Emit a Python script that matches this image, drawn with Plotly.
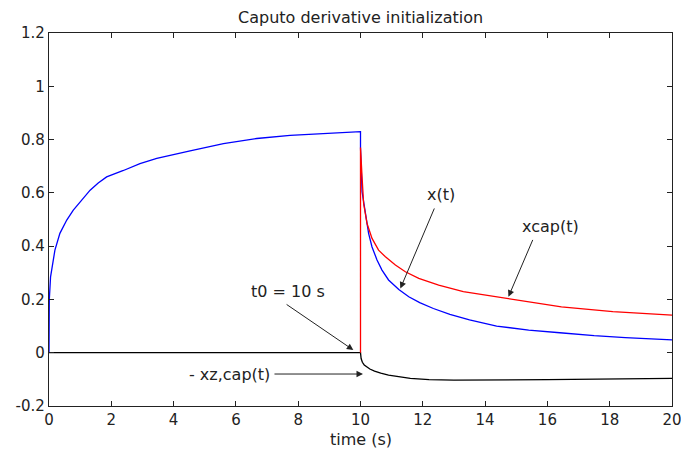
import plotly.graph_objects as go

# ---- data ----
t_x = [0, 0.01, 0.05, 0.19, 0.35, 0.57, 0.78, 1.0, 1.32, 1.58, 1.85, 2.39, 2.92, 3.46, 3.99, 4.53, 5.6, 6.67, 7.74, 8.8, 10.0,
       10.0, 10.05, 10.16, 10.26, 10.37, 10.53, 10.69, 10.9, 11.23, 11.55, 11.9, 12.34, 12.87, 13.5, 14.37, 15.4, 16.4, 17.5, 18.5, 20.0]
x_vals = [0, 0.20, 0.285, 0.385, 0.448, 0.498, 0.535, 0.566, 0.61, 0.637, 0.66, 0.684, 0.71, 0.729, 0.744, 0.758, 0.785, 0.804, 0.816, 0.823, 0.830,
          0.77, 0.604, 0.523, 0.448, 0.397, 0.348, 0.31, 0.273, 0.237, 0.21, 0.188, 0.166, 0.144, 0.123, 0.100, 0.085, 0.075, 0.064, 0.057, 0.048]

t_cap = [10.0, 10.0, 10.05, 10.1, 10.21, 10.37, 10.58, 10.8, 11.12, 11.44, 11.87, 12.51, 13.3, 14.75, 16.45, 18.1, 20.0]
xcap_vals = [0, 0.77, 0.66, 0.56, 0.485, 0.429, 0.385, 0.36, 0.329, 0.304, 0.279, 0.254, 0.229, 0.204, 0.172, 0.154, 0.141]

t_z = [0, 10.0, 10.02, 10.06, 10.12, 10.2, 10.3, 10.45, 10.65, 10.9, 11.2, 11.6, 12.2, 13.0, 16.0, 18.0, 20.0]
xz_vals = [0, 0, -0.022, -0.036, -0.046, -0.054, -0.061, -0.069, -0.077, -0.084, -0.090, -0.096, -0.101, -0.103, -0.101, -0.098, -0.096]

x_ticks = [0, 2, 4, 6, 8, 10, 12, 14, 16, 18, 20]
y_ticks = [-0.2, 0, 0.2, 0.4, 0.6, 0.8, 1.0, 1.2]
y_tick_text = ["-0.2", "0", "0.2", "0.4", "0.6", "0.8", "1", "1.2"]

# annotation labels: (text, text_x, text_y, tail_x, tail_y, tip_x, tip_y)
labels = [
    ("t0 = 10 s", 7.67, 0.231, 7.58, 0.185, 9.77, 0.01),
    ("x(t)", 12.58, 0.595, 12.39, 0.547, 11.28, 0.241),
    ("xcap(t)", 16.1, 0.475, 15.55, 0.429, 14.75, 0.21),
    ("- xz,cap(t)", 5.78, -0.083, 7.19, -0.08, 10.08, -0.08),
]

FONT = "DejaVu Sans"

fig = go.Figure()
fig.add_trace(go.Scatter(x=t_z, y=xz_vals, mode="lines", line=dict(color="black", width=1.3), showlegend=False))
fig.add_trace(go.Scatter(x=t_x, y=x_vals, mode="lines", line=dict(color="#0000ff", width=1.3), showlegend=False))
fig.add_trace(go.Scatter(x=t_cap, y=xcap_vals, mode="lines", line=dict(color="#ff0000", width=1.3), showlegend=False))

annots = []
for txt, tx, ty, ax, ay, px, py in labels:
    annots.append(dict(x=tx, y=ty, xref="x", yref="y", text=txt, showarrow=False,
                       font=dict(family=FONT, size=16, color="#222"), xanchor="center", yanchor="middle"))
    annots.append(dict(x=px, y=py, xref="x", yref="y", ax=ax, ay=ay, axref="x", ayref="y",
                       text="", showarrow=True, arrowhead=2, arrowsize=1.3, arrowwidth=1,
                       arrowcolor="#222", standoff=0, startstandoff=0))
annots.append(dict(x=0.5, y=-0.091, xref="paper", yref="paper", text="time (s)", showarrow=False,
                   font=dict(family=FONT, size=16, color="#222"), xanchor="center", yanchor="middle"))

axis_common = dict(showgrid=False, zeroline=False, showline=True, linecolor="#222", linewidth=1.3,
                   mirror="allticks", ticks="inside", ticklen=5, tickwidth=1.2, tickcolor="#222",
                   tickfont=dict(family=FONT, size=15, color="#222"), ticklabeloverflow="allow",
                   automargin=False)

fig.update_layout(
    width=681, height=454,
    margin=dict(l=49, r=9, t=33, b=48, autoexpand=False),
    paper_bgcolor="white", plot_bgcolor="white",
    title=dict(text="Caputo derivative initialization", x=0.5295, xanchor="center",
               y=1 - 17 / 454, yanchor="middle", yref="container",
               font=dict(family=FONT, size=16, color="#222")),
    xaxis=dict(range=[0, 20], tickvals=x_ticks, **axis_common),
    yaxis=dict(range=[-0.2, 1.2], tickvals=y_ticks, ticktext=y_tick_text, **axis_common),
    annotations=annots,
)

fig.write_html("out.html")
